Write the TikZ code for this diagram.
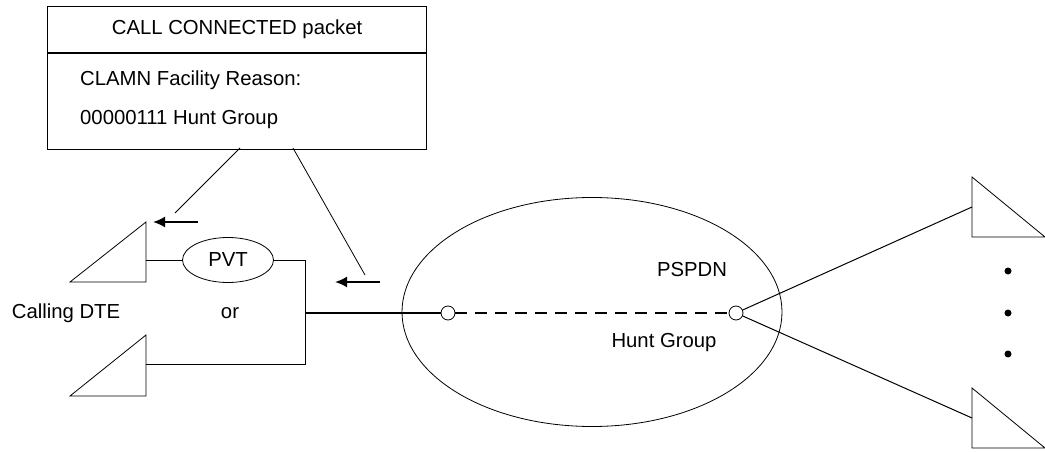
\documentclass[tikz,border=0pt]{standalone}
\usepackage{fontspec}
\setmainfont{Liberation Sans}
\usetikzlibrary{shapes.geometric,arrows.meta}

\begin{document}
\begin{tikzpicture}[
                x=1pt, y=-1pt,
                every node/.style={font=\fontsize{20.3}{24}\selectfont, inner sep=0pt},
                thin line/.style={line width=.8pt},
                box line/.style={line width=1.2pt},
                port/.style={circle, draw, fill=white, line width=.8pt, minimum size=14pt},
                flow/.style={-{Latex[length=12pt,width=11pt]}, line width=1.8pt},
            ]
                \useasboundingbox (0, 0) rectangle (1045, 452);
                \node[draw, box line, minimum width=379pt, minimum height=46pt, anchor=north west] (hdr) at (47, 6) {};
                \node[draw, box line, minimum width=379pt, minimum height=96pt, anchor=north] (body) at (hdr.south) {};
                \node (title) at (hdr.center) {CALL CONNECTED packet};
                \node[anchor=west] (reason) at (80, 80) {CLAMN Facility Reason:};
                \node[anchor=west] (code) at (80, 120) {00000111 Hunt Group};
                \coordinate (c1) at (240, 148);
                \coordinate (c2) at (293, 148);
                \coordinate (e1) at (175, 213);
                \coordinate (e2) at (365, 275);
                \draw[thin line] (c1) -- (e1);
                \draw[thin line] (c2) -- (e2);
                \coordinate (a1s) at (198, 222);
                \coordinate (a1e) at (153, 222);
                \coordinate (a2s) at (380, 282);
                \coordinate (a2e) at (335, 282);
                \draw[flow] (a1s) -- (a1e);
                \draw[flow] (a2s) -- (a2e);
                \draw[thin line] (70, 282) -- (146, 282) -- (146, 222) -- cycle;
                \draw[thin line] (70, 396) -- (146, 396) -- (146, 335) -- cycle;
                \coordinate (dte1) at (146, 260);
                \coordinate (dte2) at (146, 364);
                \node[ellipse, draw, thin line, minimum width=91pt, minimum height=45pt] (pvt) at (228, 260) {PVT};
                \coordinate (jn) at (305, 313);
                \coordinate (low) at (305, 364);
                \draw[line width=1pt] (dte1) -- (pvt.west);
                \draw[line width=1pt] (pvt.east) -| (low) -- (dte2);
                \node (calling) at (66, 313) {Calling DTE};
                \node (or) at (230, 313) {or};
                \node[ellipse, draw, thin line, minimum width=380pt, minimum height=229pt] (net) at (592, 312) {};
                \node (pspdn) at (692, 270) {PSPDN};
                \node (hunt) at (664, 343) {Hunt Group};
                \node[port] (hl) at (448, 313) {};
                \node[port] (hr) at (736, 313) {};
                \draw[line width=2pt] (jn) -- (hl);
                \draw[line width=1.6pt, dash pattern=on 12pt off 8pt] (hl) -- (hr);
                \draw[thin line] (972, 177) -- (972, 237) -- (1045, 237) -- cycle;
                \draw[thin line] (972, 388) -- (972, 448) -- (1045, 448) -- cycle;
                \coordinate (t1) at (972, 207);
                \coordinate (t2) at (972, 418);
                \draw[line width=1pt] (hr) -- (t1);
                \draw[line width=1pt] (hr) -- (t2);
                \foreach \y in {271, 313, 354}
                    \fill (1008, \y) circle (3.5pt);
            \end{tikzpicture}
\end{document}
